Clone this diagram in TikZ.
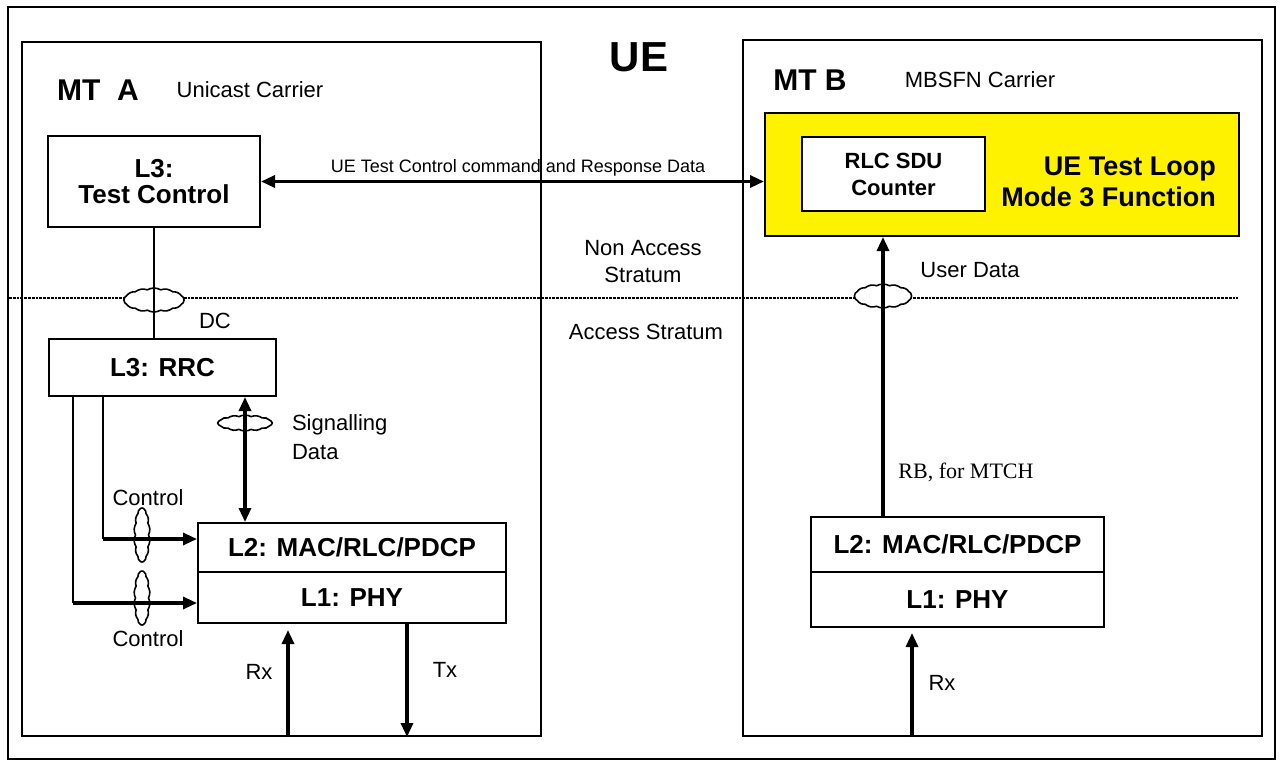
\documentclass[tikz,border=0pt]{standalone}
\usepackage{fontspec}
\setmainfont{Liberation Sans}
\newfontfamily\rbfont{Liberation Serif}
\usetikzlibrary{positioning,
        shapes,
        arrows.meta}
\newcommand{\fsz}[2]{\fontsize{#1}{#2}\selectfont}

\begin{document}
\begin{tikzpicture}[x=0.5pt,y=-0.5pt,
        >={Triangle[length=7pt,width=6pt]},
        frame/.style={draw,line width=1pt,inner sep=0pt},
        layer/.style={draw,line width=1pt,inner sep=0pt,align=center,font=\fsz{13}{13}\bfseries},
        lbl/.style={align=center,font=\fsz{11}{13.5}},
        sap/.style={cloud,cloud puffs=14,cloud puff arc=60,cloud ignores aspect,draw,fill=white,line width=0.8pt,inner sep=0pt},
        bus/.style={line width=1.6pt},
        arr/.style={bus,->},
        biarr/.style={bus,<->},
        thinline/.style={line width=0.7pt}]
            \useasboundingbox (0,0) rectangle (1280,767);

            % frames
            \node [frame,minimum width=633.5pt,minimum height=376pt] (ue) at (641.5,383) {};
            \node [frame,minimum width=259.5pt,minimum height=347pt] (mta) at (281.5,389) {};
            \node [frame,minimum width=259.5pt,minimum height=348pt] (mtb) at (1002.5,388) {};
            \node [font=\fsz{21}{21}\bfseries] (uelbl) at (639,57) {UE};
            \node [font=\fsz{15}{15}\bfseries] (mtalbl) at (98,90) {MT\ \ A};
            \node [lbl] (unicast) at (250,90) {Unicast Carrier};
            \node [font=\fsz{15}{15}\bfseries] (mtblbl) at (810,80) {MT B};
            \node [lbl] (mbsfn) at (980,80) {MBSFN Carrier};

            % boxes
            \node [layer,minimum width=106pt,minimum height=45.5pt] (tc) at (154,181.5) {L3:\\Test Control};
            \node [draw,line width=1pt,fill=yellow,minimum width=237pt,minimum height=61.5pt] (loop) at (1002,174.5) {};
            \node [layer,fill=white,font=\fsz{11}{13.5}\bfseries,minimum width=91.5pt,minimum height=37pt] (rlc) at (893.5,174) {RLC SDU\\Counter};
            \node [font=\fsz{13.5}{15.5}\bfseries,align=right,anchor=east] (looplbl) at (1223,182) {UE Test Loop\\Mode 3 Function};
            \node [layer,minimum width=113.5pt,minimum height=28.5pt] (rrc) at (162.5,367.5) {L3: RRC};
            \node [layer,minimum width=154pt,minimum height=24.5pt] (l2a) at (352,547.5) {L2: MAC/RLC/PDCP};
            \node [layer,minimum width=154pt,minimum height=25.5pt] (l1a) at (352,597.5) {L1: PHY};
            \node [layer,minimum width=146.5pt,minimum height=27.5pt] (l2b) at (957.5,544.5) {L2: MAC/RLC/PDCP};
            \node [layer,minimum width=146.5pt,minimum height=27.5pt] (l1b) at (957.5,599.5) {L1: PHY};

            % stratum border
            \node [lbl] (nas) at (643,262) {Non Access\\Stratum};
            \node [lbl] (as) at (646,332) {Access Stratum};
            \coordinate (dl) at (9,298);
            \coordinate (dr) at (1238,298);
            \draw [dash pattern=on 1.4pt off 0.5pt,line width=1pt] (dl) -- (dr);

            % service access points
            \node [sap,minimum width=30pt,minimum height=12pt] (dcsap) at (154,300) {};
            \node [sap,minimum width=27pt,minimum height=8pt] (sigsap) at (245,423) {};
            \node [sap,minimum width=8pt,minimum height=27pt] (ctlsapa) at (142,535) {};
            \node [sap,minimum width=8pt,minimum height=27pt] (ctlsapb) at (142,598) {};
            \node [sap,minimum width=28.5pt,minimum height=12pt] (udsap) at (883,296) {};

            % connectors
            \draw [biarr] (tc.east) -- (tc.east -| loop.west);
            \draw [thinline] (tc.south) -- (tc.south |- rrc.north);
            \draw [biarr] (rrc.south -| sigsap) -- (l2a.north -| sigsap);
            \coordinate (ctla) at (103,539);
            \coordinate (ctlb) at (73,603);
            \draw [thinline] (rrc.south -| ctla) -- (ctla);
            \draw [arr] (ctla) -- (ctla -| l2a.west);
            \draw [thinline] (rrc.south -| ctlb) -- (ctlb);
            \draw [arr] (ctlb) -- (ctlb -| l1a.west);
            \coordinate (rxa) at (288,0);
            \coordinate (txa) at (407,0);
            \coordinate (rxb) at (912,0);
            \draw [arr,shorten >=3pt] (mta.south -| rxa) -- (l1a.south -| rxa);
            \draw [arr] (l1a.south -| txa) -- (mta.south -| txa);
            \draw [arr] (l2b.north -| udsap) -- (udsap |- loop.south);
            \draw [arr,shorten >=2.5pt] (mtb.south -| rxb) -- (l1b.south -| rxb);

            % labels
            \node [font=\fsz{9}{9}] (cmdlbl) at (518,168) {UE Test Control command and Response Data};
            \node [lbl] (dclbl) at (215,321) {DC};
            \node [lbl,font=\fsz{11}{14.5},align=left,anchor=west] (siglbl) at (285,437) {Signalling\\Data};
            \node [lbl] (ctllbla) at (148,498) {Control};
            \node [lbl] (ctllblb) at (148,639) {Control};
            \node [lbl] (rxlbla) at (259,672) {Rx};
            \node [lbl] (txlbl) at (445,670) {Tx};
            \node [lbl] (udlbl) at (970,270) {User Data};
            \node [lbl,font=\rbfont\fsz{11}{11}] (rblbl) at (966,472) {RB, for MTCH};
            \node [lbl] (rxlblb) at (942,683) {Rx};
        \end{tikzpicture}
\end{document}
